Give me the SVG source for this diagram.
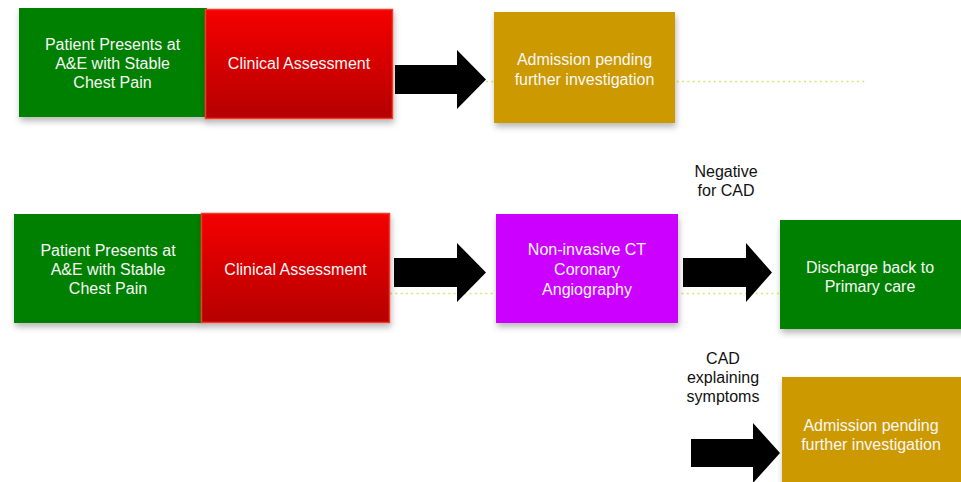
<svg xmlns="http://www.w3.org/2000/svg" width="961" height="482" viewBox="0 0 961 482">
<style>
.t{font-family:"Liberation Sans",Arial,sans-serif;font-size:16px;fill:#f7f7f7;text-anchor:middle}
.l{font-family:"Liberation Sans",Arial,sans-serif;font-size:16px;fill:#111;text-anchor:middle}
.dot{stroke:#d6e66e;stroke-width:1.6;stroke-dasharray:2 3.3;fill:none}
.arr{fill:#000}
.g{fill:#008000}
.gold{fill:#cc9900}
.red{fill:url(#rg);stroke:#f03a2a;stroke-width:1.5}
</style>
<defs>
<linearGradient id="rg" x1="0" y1="0" x2="0" y2="1">
<stop offset="0" stop-color="#f50000"/>
<stop offset="1" stop-color="#b50000"/>
</linearGradient>
<filter id="sh" x="-10%" y="-10%" width="125%" height="130%">
<feDropShadow dx="1" dy="4" stdDeviation="3" flood-color="#000" flood-opacity="0.28"/>
</filter>
</defs>
<rect width="961" height="482" fill="#fff"/>
<g id="connectors">
<line class="dot" x1="486" y1="81.5" x2="866" y2="81.5"/>
<line class="dot" x1="390" y1="293.5" x2="780" y2="293.5"/>
<polygon class="arr" points="395,65 457,65 457,50 486,79.5 457,109 457,94 395,94"/>
<polygon class="arr" points="394,258 457,258 457,243 486,272.5 457,302 457,287 394,287"/>
<polygon class="arr" points="683,258 746,258 746,243 772,272.5 746,302 746,287 683,287"/>
<polygon class="arr" points="691,439 753,439 753,423 780,453 753,483 753,467 691,467"/>
</g>
<g id="n1"><rect class="g" x="19" y="8" width="188" height="109" filter="url(#sh)"/>
<text class="t" x="112.5" y="50">Patient Presents at</text><text class="t" x="112.5" y="69">A&amp;E with Stable</text><text class="t" x="112.5" y="88">Chest Pain</text></g>
<g id="n2"><rect class="red" x="205.5" y="9.5" width="187" height="109" filter="url(#sh)"/>
<text class="t" x="299" y="69">Clinical Assessment</text></g>
<g id="n3"><rect class="gold" x="494" y="12" width="181" height="111" filter="url(#sh)"/>
<text class="t" x="584.5" y="65">Admission pending</text><text class="t" x="584.5" y="85">further investigation</text></g>
<g id="n4"><rect class="g" x="14" y="214" width="188" height="109" filter="url(#sh)"/>
<text class="t" x="108" y="256">Patient Presents at</text><text class="t" x="108" y="275">A&amp;E with Stable</text><text class="t" x="108" y="294">Chest Pain</text></g>
<g id="n5"><rect class="red" x="201.5" y="213.5" width="188" height="109" filter="url(#sh)"/>
<text class="t" x="295.5" y="275">Clinical Assessment</text></g>
<g id="n6"><rect x="496" y="214" width="182" height="109" fill="#cc00ff" filter="url(#sh)"/>
<text class="t" x="587" y="255">Non-invasive CT</text><text class="t" x="587" y="275">Coronary</text><text class="t" x="587" y="295">Angiography</text></g>
<g id="n7"><rect class="g" x="780" y="220" width="190" height="109" filter="url(#sh)"/>
<text class="t" x="870" y="273">Discharge back to</text><text class="t" x="870" y="292">Primary care</text></g>
<g id="n8"><rect class="gold" x="782" y="377" width="190" height="115" filter="url(#sh)"/>
<text class="t" x="871" y="431">Admission pending</text><text class="t" x="871" y="450">further investigation</text></g>
<g id="labels">
<text class="l" x="726" y="177">Negative</text><text class="l" x="726" y="196">for CAD</text>
<text class="l" x="723" y="364">CAD</text><text class="l" x="723" y="383">explaining</text><text class="l" x="723" y="402">symptoms</text>
</g>
</svg>
